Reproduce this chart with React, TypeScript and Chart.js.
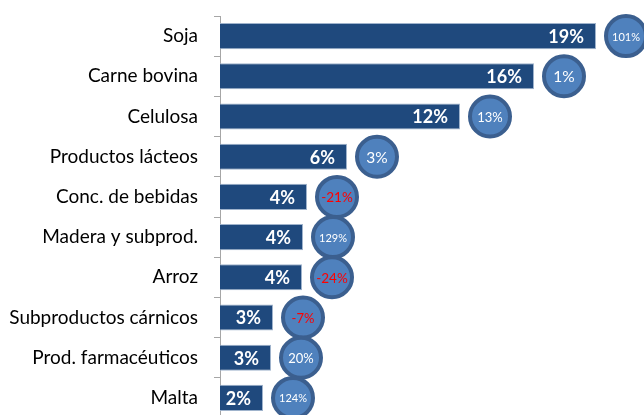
import React, { useEffect, useRef } from "react";
import { Chart, registerables } from "chart.js";

Chart.register(...registerables);

const categories = [
  "Soja",
  "Carne bovina",
  "Celulosa",
  "Productos lácteos",
  "Conc. de bebidas",
  "Madera y subprod.",
  "Arroz",
  "Subproductos cárnicos",
  "Prod. farmacéuticos",
  "Malta",
];
const shares = [18.8, 15.7, 12.0, 6.35, 4.35, 4.15, 4.1, 2.65, 2.55, 2.15];
const growth = [101, 1, 13, 3, -21, 129, -24, -7, 20, 124];

const BUBBLE_OFFSET = 1.5;
const X_MAX = 21.2;
const FONT = "Lato, 'Open Sans', sans-serif";

const labelPlugin = {
  id: "valueLabels",
  afterDatasetsDraw(chart: any) {
    const ctx = chart.ctx;
    ctx.save();
    ctx.textBaseline = "middle";
    const barMeta = chart.getDatasetMeta(0);
    ctx.font = `bold 18px ${FONT}`;
    ctx.fillStyle = "#FFFFFF";
    ctx.textAlign = "right";
    barMeta.data.forEach((el: any, i: number) => {
      ctx.fillText(Math.round(shares[i]) + "%", el.x - 12, el.y + 1);
    });
    const bMeta = chart.getDatasetMeta(1);
    ctx.textAlign = "center";
    bMeta.data.forEach((el: any, i: number) => {
      const t = growth[i] + "%";
      const neg = growth[i] < 0;
      const size = t.length <= 2 ? 15.5 : t.length === 3 ? 13 : neg ? 13.5 : 11;
      ctx.font = `${size}px ${FONT}`;
      ctx.fillStyle = neg ? "#FF0000" : "#FFFFFF";
      ctx.fillText(t, el.x, el.y + 1);
    });
    ctx.restore();
  },
};

export default function App() {
  const ref = useRef<HTMLCanvasElement>(null);
  useEffect(() => {
    if (!ref.current) return;
    const chart = new Chart(ref.current, {
      type: "bar",
      data: {
        labels: categories,
        datasets: [
          {
            type: "bar",
            data: shares,
            backgroundColor: "#1F497D",
            borderColor: "#9FB3CC",
            borderWidth: 1,
            barPercentage: 0.65,
            categoryPercentage: 1,
          } as any,
          {
            type: "bubble",
            data: categories.map((c, i) => ({ x: shares[i] + BUBBLE_OFFSET, y: c })),
            backgroundColor: "#4F81BD",
            borderColor: "#3B5F8F",
            borderWidth: 4,
            radius: 20,
          } as any,
        ],
      },
      options: {
        indexAxis: "y",
        responsive: false,
        animation: false,
        layout: { autoPadding: false, padding: { top: 16, right: 0, bottom: 0, left: 0 } },
        plugins: { legend: { display: false }, tooltip: { enabled: false } },
        scales: {
          x: { type: "linear", min: 0, max: X_MAX, display: false },
          y: {
            type: "category",
            offset: true,
            grid: {
              offset: true,
              drawOnChartArea: false,
              drawTicks: true,
              tickLength: 6,
              color: "#A6A6A6",
            },
            border: { display: true, color: "#A6A6A6", width: 1 },
            ticks: {
              padding: 16,
              color: "#000000",
              font: { family: FONT, size: 19 },
            },
            afterFit(scale: any) {
              scale.width = 220;
              scale.paddingTop = 0;
              scale.paddingBottom = 0;
            },
          },
        },
      } as any,
      plugins: [labelPlugin],
    });
    return () => chart.destroy();
  }, []);
  return (
    <div style={{ position: "fixed", left: 0, top: 0, width: 644, height: 418 }}>
      <canvas ref={ref} width={644} height={418} />
    </div>
  );
}
